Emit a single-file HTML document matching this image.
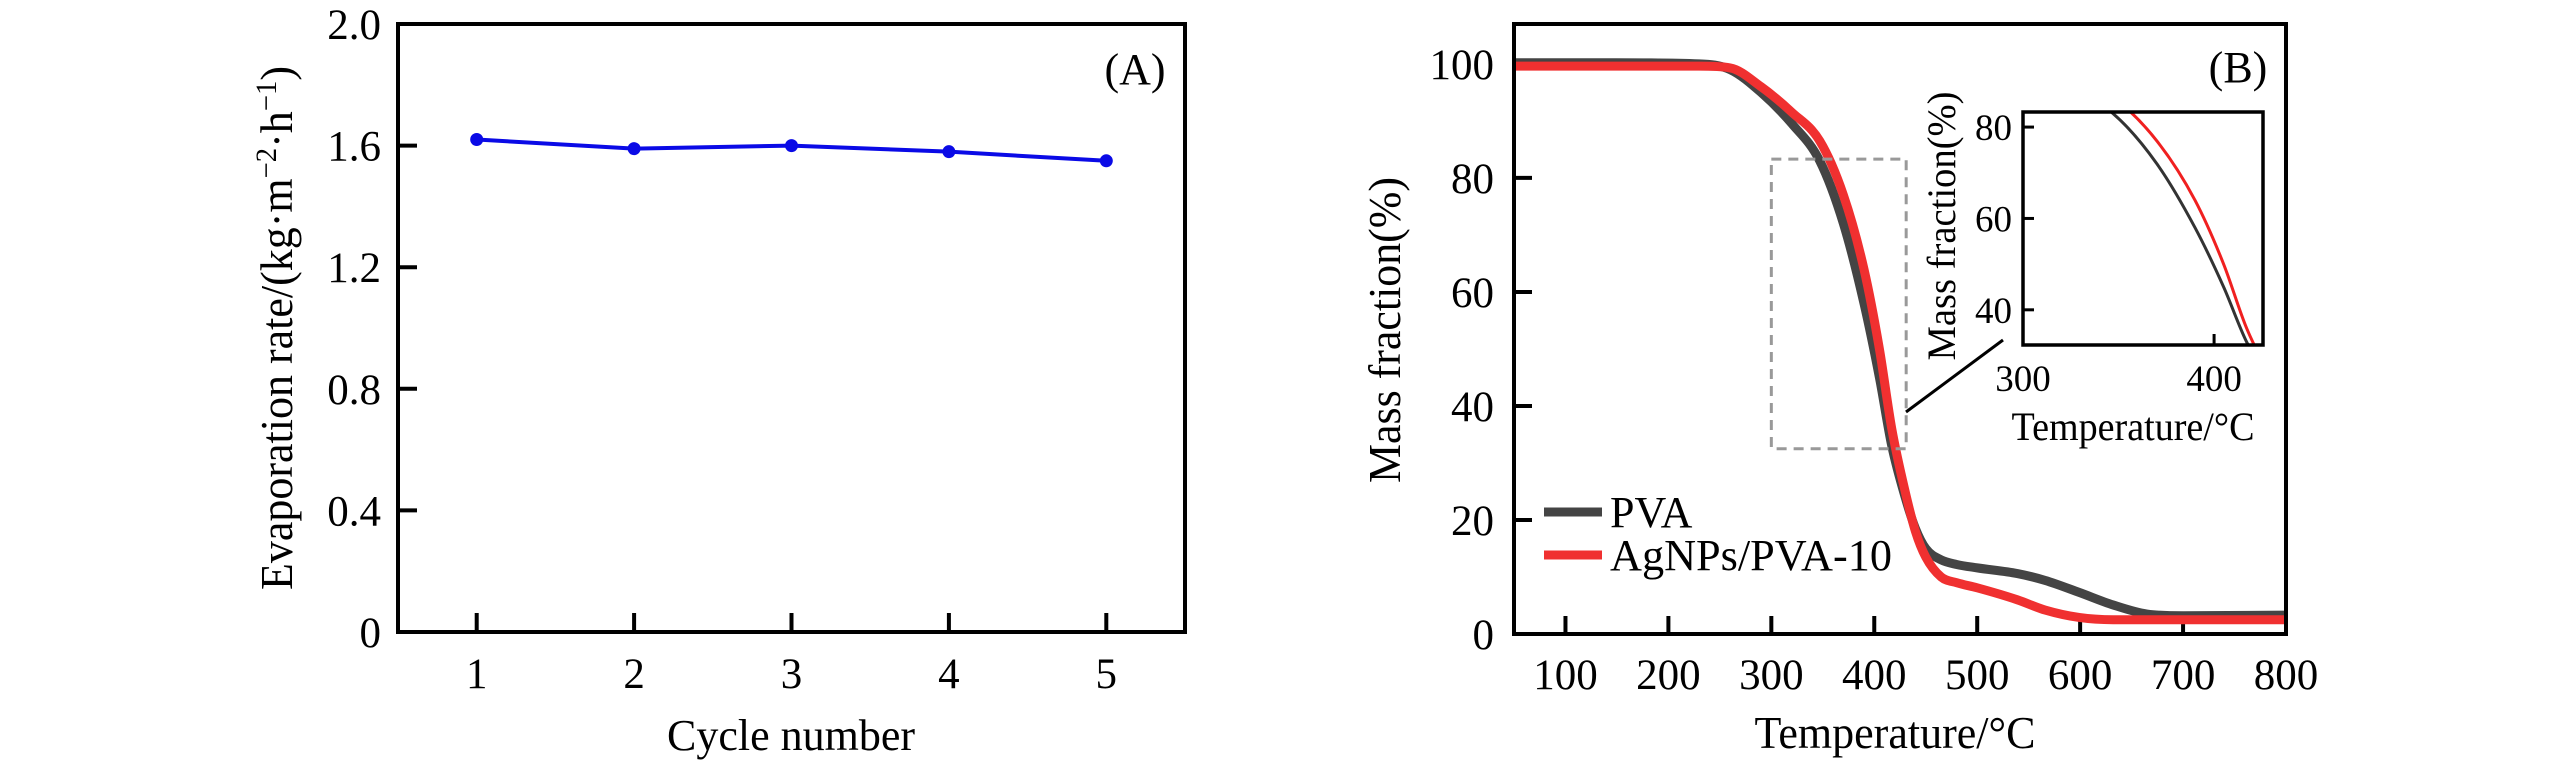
<!DOCTYPE html>
<html><head><meta charset="utf-8"><style>
html,body{margin:0;padding:0;background:#fff;}
svg{display:block;font-family:"Liberation Serif",serif;}
</style></head><body>
<svg id="chart" width="2567" height="774" viewBox="0 0 2567 774" xmlns="http://www.w3.org/2000/svg">
<g id="pa"></g>
<g id="pb"></g>
</svg>
<script>
const cycles=[1,2,3,4,5];
const rates=[1.62,1.59,1.60,1.58,1.55];
const aYTicks=[0,0.4,0.8,1.2,1.6,2.0];
const aYLabels=["0","0.4","0.8","1.2","1.6","2.0"];
const temps=[50,150,230,260,290,320,347,370,390,405,417,430,440,450,465,480,500,539,566,599,632,665,700,800];
const pvaMass=[100.2,100.2,100,99,95,89.5,83,72,58,45,33,24,18.5,15,13,12.2,11.6,10.6,9.4,7.3,5.1,3.5,3.2,3.3];
const agMass=[99.6,99.6,99.6,99.3,96,91.5,86.5,77,64,50,36,25,18,13.5,10,9,8.1,6,4.2,2.9,2.5,2.5,2.5,2.5];
const bXTicks=[100,200,300,400,500,600,700,800];
const bYTicks=[0,20,40,60,80,100];
const inXTicks=[300,400];
const inYTicks=[40,60,80];

const NS="http://www.w3.org/2000/svg";
function mk(parent,tag,attrs,text){const e=document.createElementNS(NS,tag);for(const k in attrs)e.setAttribute(k,attrs[k]);if(text!==undefined)e.textContent=text;parent.appendChild(e);return e;}
// monotone cubic (Fritsch-Carlson) path through screen points (x increasing)
function smooth(p){const n=p.length,d=[],m=[];
  for(let i=0;i<n-1;i++)d.push((p[i+1][1]-p[i][1])/(p[i+1][0]-p[i][0]));
  m[0]=d[0];m[n-1]=d[n-2];
  for(let i=1;i<n-1;i++){m[i]=(d[i-1]*d[i]<=0)?0:(d[i-1]+d[i])/2;}
  for(let i=0;i<n-1;i++){if(d[i]===0){m[i]=0;m[i+1]=0;continue;}const a=m[i]/d[i],b=m[i+1]/d[i],s=a*a+b*b;if(s>9){const t=3/Math.sqrt(s);m[i]=t*a*d[i];m[i+1]=t*b*d[i];}}
  let s="M"+p[0][0]+","+p[0][1];
  for(let i=0;i<n-1;i++){const h=(p[i+1][0]-p[i][0])/3;s+=" C"+(p[i][0]+h)+","+(p[i][1]+m[i]*h)+" "+(p[i+1][0]-h)+","+(p[i+1][1]-m[i+1]*h)+" "+p[i+1][0]+","+p[i+1][1];}
  return s;}

// Panel A
const pa=document.getElementById('pa');
const aL=398,aR=1185,aT=24,aB=632;
const ax=v=>aL+(v-0.5)/5*(aR-aL);
const ay=v=>aB-v/2.0*(aB-aT);
let e;
aYTicks.forEach((t,i)=>{
  if(t>0&&t<2){e=mk(pa,'line',{x1:aL,x2:aL+19,y1:ay(t),y2:ay(t),stroke:'#000','stroke-width':4});
  }
  e=mk(pa,'text',{x:381,y:ay(t)+15,'text-anchor':'end','font-size':43},aYLabels[i]);
  
});
cycles.forEach(c=>{
  e=mk(pa,'line',{x1:ax(c),x2:ax(c),y1:aB,y2:aB-19,stroke:'#000','stroke-width':4});
  
  e=mk(pa,'text',{x:ax(c),y:688,'text-anchor':'middle','font-size':43},String(c));
  
});
e=mk(pa,'polyline',{points:cycles.map((c,i)=>ax(c)+","+ay(rates[i])).join(" "),fill:'none',stroke:'#0a0ae6','stroke-width':4});

cycles.forEach((c,i)=>{e=mk(pa,'circle',{cx:ax(c),cy:ay(rates[i]),r:6.5,fill:'#0a0ae6'});
  });
e=mk(pa,'rect',{x:aL,y:aT,width:aR-aL,height:aB-aT,fill:'none',stroke:'#000','stroke-width':4});

e=mk(pa,'text',{x:1135,y:84,'text-anchor':'middle','font-size':44},"(A)");

e=mk(pa,'text',{x:791,y:750,'text-anchor':'middle','font-size':44},"Cycle number");

e=mk(pa,'text',{x:0,y:0,'text-anchor':'middle','font-size':46,transform:'translate(292,328) rotate(-90)',textLength:524,lengthAdjust:'spacingAndGlyphs'});
e.innerHTML='Evaporation rate/(kg·m<tspan dy="-16" font-size="30">−2</tspan><tspan dy="16">·h</tspan><tspan dy="-16" font-size="30">−1</tspan><tspan dy="16">)</tspan>';


// Panel B
const pb=document.getElementById('pb');
const bL=1514,bR=2286,bT=24,bB=634;
const bx=v=>bL+(v-50)/750*(bR-bL);
const by=v=>bB-v/107*(bB-bT);
const cp=mk(pb,'clipPath',{id:'bclip'});mk(cp,'rect',{x:bL,y:bT,width:bR-bL,height:bB-bT});
bYTicks.forEach(t=>{
  e=mk(pb,'line',{x1:bL,x2:bL+18,y1:by(t),y2:by(t),stroke:'#000','stroke-width':4});
  
  e=mk(pb,'text',{x:1494,y:by(t)+15,'text-anchor':'end','font-size':43},String(t));
  
});
bXTicks.forEach(t=>{
  e=mk(pb,'line',{x1:bx(t),x2:bx(t),y1:bB,y2:bB-18,stroke:'#000','stroke-width':4});
  
  e=mk(pb,'text',{x:bx(t),y:689,'text-anchor':'middle','font-size':43},String(t));
  
});
e=mk(pb,'path',{d:smooth(temps.map((t,i)=>[bx(t),by(pvaMass[i])])),fill:'none',stroke:'#444','stroke-width':9,'clip-path':'url(#bclip)'});

e=mk(pb,'path',{d:smooth(temps.map((t,i)=>[bx(t),by(agMass[i])])),fill:'none',stroke:'#f03030','stroke-width':9,'clip-path':'url(#bclip)'});

e=mk(pb,'rect',{x:bL,y:bT,width:bR-bL,height:bB-bT,fill:'none',stroke:'#000','stroke-width':4});

e=mk(pb,'rect',{x:bx(300),y:by(83.3),width:bx(431)-bx(300),height:by(32.5)-by(83.3),fill:'none',stroke:'#999','stroke-width':3,'stroke-dasharray':'10,7'});

e=mk(pb,'line',{x1:1906,y1:412,x2:2003,y2:340,stroke:'#000','stroke-width':3});

e=mk(pb,'text',{x:2238,y:82,'text-anchor':'middle','font-size':44},"(B)");

e=mk(pb,'text',{x:1895,y:748,'text-anchor':'middle','font-size':46,textLength:281,lengthAdjust:'spacingAndGlyphs'},"Temperature/°C");

e=mk(pb,'text',{x:0,y:0,'text-anchor':'middle','font-size':46,transform:'translate(1400,330) rotate(-90)',textLength:306,lengthAdjust:'spacingAndGlyphs'},"Mass fraction(%)");

e=mk(pb,'line',{x1:1544,x2:1602,y1:512,y2:512,stroke:'#444','stroke-width':9});

e=mk(pb,'text',{x:1610,y:527,'font-size':44},"PVA");

e=mk(pb,'line',{x1:1544,x2:1602,y1:555,y2:555,stroke:'#f03030','stroke-width':9});

e=mk(pb,'text',{x:1610,y:570,'font-size':44,textLength:282,lengthAdjust:'spacingAndGlyphs'},"AgNPs/PVA-10");


// Inset
const iL=2023,iR=2263,iT=112,iB=345;
const ix=v=>iL+(v-300)/125.6*(iR-iL);
const iy=v=>iB-(v-32.3)/51*(iB-iT);
const ic=mk(pb,'clipPath',{id:'iclip'});mk(ic,'rect',{x:iL,y:iT,width:iR-iL,height:iB-iT});
e=mk(pb,'rect',{x:iL,y:iT,width:iR-iL,height:iB-iT,fill:'#fff'});

e=mk(pb,'path',{d:smooth(temps.map((t,i)=>[ix(t),iy(pvaMass[i])])),fill:'none',stroke:'#333','stroke-width':3,'clip-path':'url(#iclip)'});

e=mk(pb,'path',{d:smooth(temps.map((t,i)=>[ix(t),iy(agMass[i])])),fill:'none',stroke:'#f02020','stroke-width':3,'clip-path':'url(#iclip)'});

inYTicks.forEach(t=>{
  e=mk(pb,'line',{x1:iL,x2:iL+11,y1:iy(t),y2:iy(t),stroke:'#000','stroke-width':3});
  
  e=mk(pb,'text',{x:2012,y:iy(t)+13,'text-anchor':'end','font-size':37},String(t));
  
});
inXTicks.forEach(t=>{
  e=mk(pb,'line',{x1:ix(t),x2:ix(t),y1:iB,y2:iB-11,stroke:'#000','stroke-width':3});
  
  e=mk(pb,'text',{x:ix(t),y:391,'text-anchor':'middle','font-size':37},String(t));
  
});
e=mk(pb,'rect',{x:iL,y:iT,width:iR-iL,height:iB-iT,fill:'none',stroke:'#000','stroke-width':3.5});

e=mk(pb,'text',{x:2133,y:440,'text-anchor':'middle','font-size':40,textLength:243,lengthAdjust:'spacingAndGlyphs'},"Temperature/°C");

e=mk(pb,'text',{x:0,y:0,'text-anchor':'middle','font-size':40,transform:'translate(1955,226) rotate(-90)',textLength:269,lengthAdjust:'spacingAndGlyphs'},"Mass fraction(%)");

</script>
</body></html>
